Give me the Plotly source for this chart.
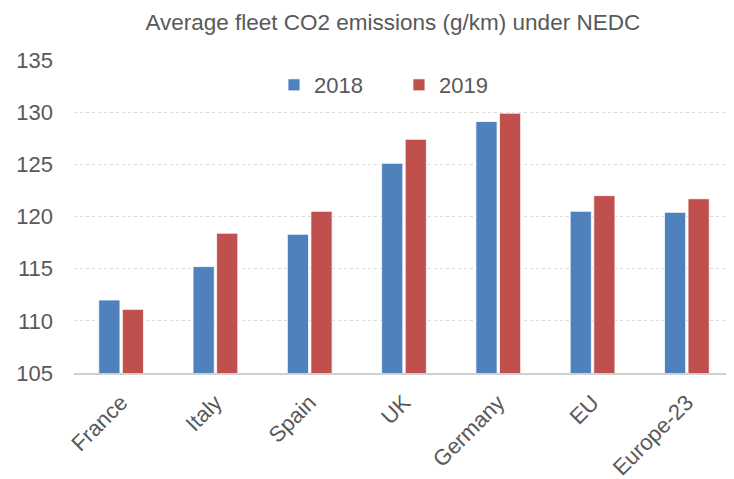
import plotly.graph_objects as go

categories = ["France", "Italy", "Spain", "UK", "Germany", "EU", "Europe-23"]
values_2018 = [112.0, 115.2, 118.3, 125.1, 129.1, 120.5, 120.4]
values_2019 = [111.1, 118.4, 120.5, 127.4, 129.9, 122.0, 121.7]
y_ticks = [105, 110, 115, 120, 125, 130, 135]

FONT = "Liberation Sans, Arial, sans-serif"
GRAY = "#595959"

fig = go.Figure()
fig.add_trace(go.Bar(name="2018", x=categories, y=values_2018,
                     marker=dict(color="#4F81BD", line=dict(color="#FFFFFF", width=0.8))))
fig.add_trace(go.Bar(name="2019", x=categories, y=values_2019,
                     marker=dict(color="#C0504D", line=dict(color="#FFFFFF", width=0.8))))

# page body adds an 8px offset, so the figure is sized to fill the remaining window
fig.update_layout(
    width=726, height=471,
    margin=dict(l=66, r=0, t=52, b=106),
    paper_bgcolor="white", plot_bgcolor="white",
    barmode="group", bargap=0.5, bargroupgap=0.1,
    font=dict(family=FONT, color=GRAY),
    title=dict(text="Average fleet CO2 emissions (g/km) under NEDC",
               x=0.530, xanchor="center", y=0.970, yanchor="middle",
               font=dict(size=22.5, color=GRAY, family=FONT)),
    legend=dict(orientation="h", x=0.303, xanchor="left", y=0.92, yanchor="middle",
                font=dict(size=22, color=GRAY), bgcolor="rgba(0,0,0,0)",
                itemwidth=30, traceorder="normal",
                entrywidth=80, entrywidthmode="pixels"),
    showlegend=True,
)
fig.update_yaxes(range=[105, 135], tickvals=y_ticks, showgrid=True,
                 gridcolor="#D9D9D9", griddash="dot", gridwidth=1,
                 zeroline=False, showline=False, automargin=False,
                 tickfont=dict(size=22, color=GRAY), ticks="",
                 ticklabelstandoff=20)
fig.update_xaxes(showline=True, linecolor="#D0D0D0", linewidth=2,
                 automargin=False,
                 tickangle=-45, tickfont=dict(size=22, color=GRAY), ticks="",
                 ticklabelstandoff=6)

fig.write_html("out.html")
